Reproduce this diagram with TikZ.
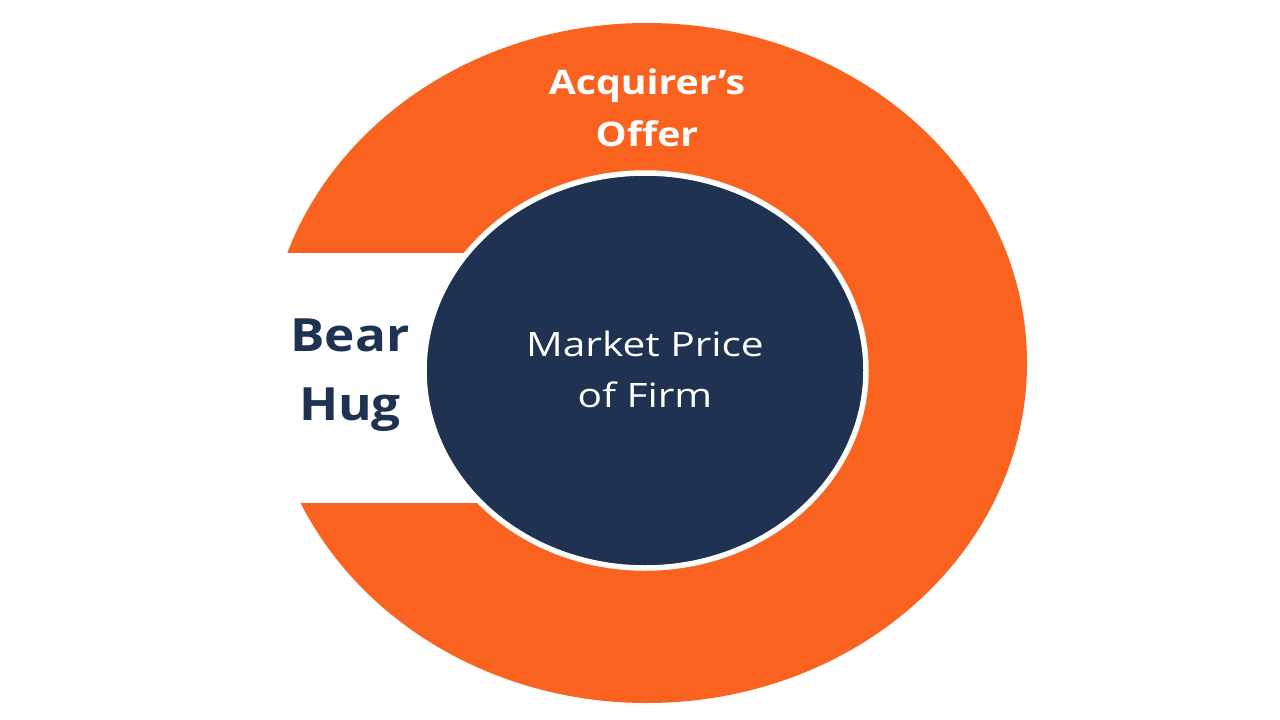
\documentclass[tikz,border=0pt]{standalone}
\usepackage{fontspec}
\setmainfont{Open Sans}
\newfontfamily\wideregular[FakeStretch=1.21]{Open Sans}
\newfontfamily\ringbold[FakeStretch=1.16]{Open Sans}
\newfontfamily\sidebold[FakeStretch=1.12]{Open Sans}
\definecolor{offerorange}{HTML}{F9631F}
\definecolor{firmnavy}{HTML}{1F3251}
\tikzset{
  ringlabel/.style={text=white, align=center, inner sep=0pt,
    font=\ringbold\bfseries\fontsize{33.8}{52}\selectfont},
  sidelabel/.style={text=firmnavy, align=center, inner sep=0pt,
    font=\sidebold\bfseries\fontsize{45.8}{69}\selectfont},
  corelabel/.style={text=white, align=center, inner sep=0pt,
    font=\wideregular\fontsize{33.6}{51.3}\selectfont}
}
\begin{document}
\begin{tikzpicture}[x=1pt,y=-1pt]
\useasboundingbox (0,0) rectangle (1280,720);
\fill[white] (0,0) rectangle (1280,720);
% outer orange ring
\fill[offerorange] (647,363) ellipse [x radius=380pt, y radius=340pt];
% white gap on the left
\fill[white] (240,253) rectangle (647,503);
% inner navy disc with white rim
\filldraw[fill=firmnavy, draw=white, line width=5.5pt] (645,370.5) ellipse [x radius=221pt, y radius=197.5pt];
% labels
\node[ringlabel] (offer) at (647,107.5) {Acquirer’s\\Offer};
\node[sidelabel] (bear) at (350,374.7) {Bear\\Hug};
\node[corelabel] (firm) at (645,369.6) {Market Price\\of Firm};
\end{tikzpicture}
\end{document}
